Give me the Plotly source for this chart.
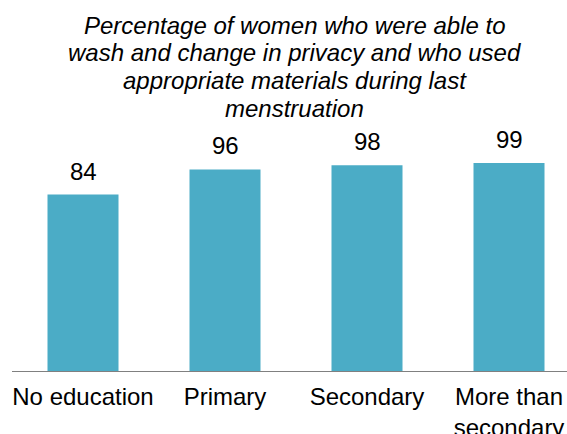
import plotly.graph_objects as go

# Data
categories = ["No education", "Primary", "Secondary", "More than<br>secondary"]
values = [84, 96, 98, 99]
title_lines = [
    "Percentage of women who were able to",
    "wash and change in privacy and who used",
    "appropriate materials during last",
    "menstruation",
]

W, H = 567, 434
ML, MR, MT, MB = 12, 0, 130, 63
PW, PH = W - ML - MR, H - MT - MB
FONT = "Arial, 'Liberation Sans', sans-serif"
BAR = "#4BACC6"

def py_to_paper(py):
    return (H - MB - py) / PH

def px_to_paper(px):
    return (px - ML) / PW

fig = go.Figure()
fig.add_trace(go.Bar(
    x=list(range(len(categories))),
    y=values,
    width=0.5,
    marker=dict(color=BAR, line=dict(width=0)),
    hoverinfo="skip",
))

annotations = []
for i, v in enumerate(values):
    annotations.append(dict(
        x=i, y=v, xref="x", yref="y", text=str(v), showarrow=False,
        yanchor="bottom", yshift=8,
        font=dict(family=FONT, size=24, color="#000000"),
    ))

title_centers = [25, 52.7, 80.5, 108]
for line, cy in zip(title_lines, title_centers):
    annotations.append(dict(
        x=px_to_paper(294.5), y=py_to_paper(cy), xref="paper", yref="paper",
        text=f"<i>{line}</i>", showarrow=False, xanchor="center", yanchor="middle",
        font=dict(family=FONT, size=24, color="#000000"),
    ))

cat_width = 142
fig.update_layout(
    width=W, height=H,
    margin=dict(l=ML, r=MR, t=MT, b=MB, pad=0, autoexpand=False),
    paper_bgcolor="white", plot_bgcolor="white",
    showlegend=False,
    annotations=annotations,
    font=dict(family=FONT, size=24, color="#000000"),
)
fig.update_xaxes(
    tickmode="array",
    tickvals=list(range(len(categories))),
    ticktext=categories,
    range=[-0.5, -0.5 + PW / cat_width],
    showline=True, linecolor="#808080", linewidth=1.2,
    showgrid=False, zeroline=False,
    ticks="outside", ticklen=4, tickcolor="rgba(0,0,0,0)",
    tickfont=dict(family=FONT, size=24, color="#000000"),
    automargin=False, fixedrange=True,
)
fig.update_yaxes(
    range=[0, PH / 2.1],
    visible=False, showgrid=False, zeroline=False,
    automargin=False, fixedrange=True,
)

fig.write_html(
    "out.html",
    config={"displayModeBar": False},
    post_script="document.body.style.margin='0';document.documentElement.style.overflow='hidden';",
)
